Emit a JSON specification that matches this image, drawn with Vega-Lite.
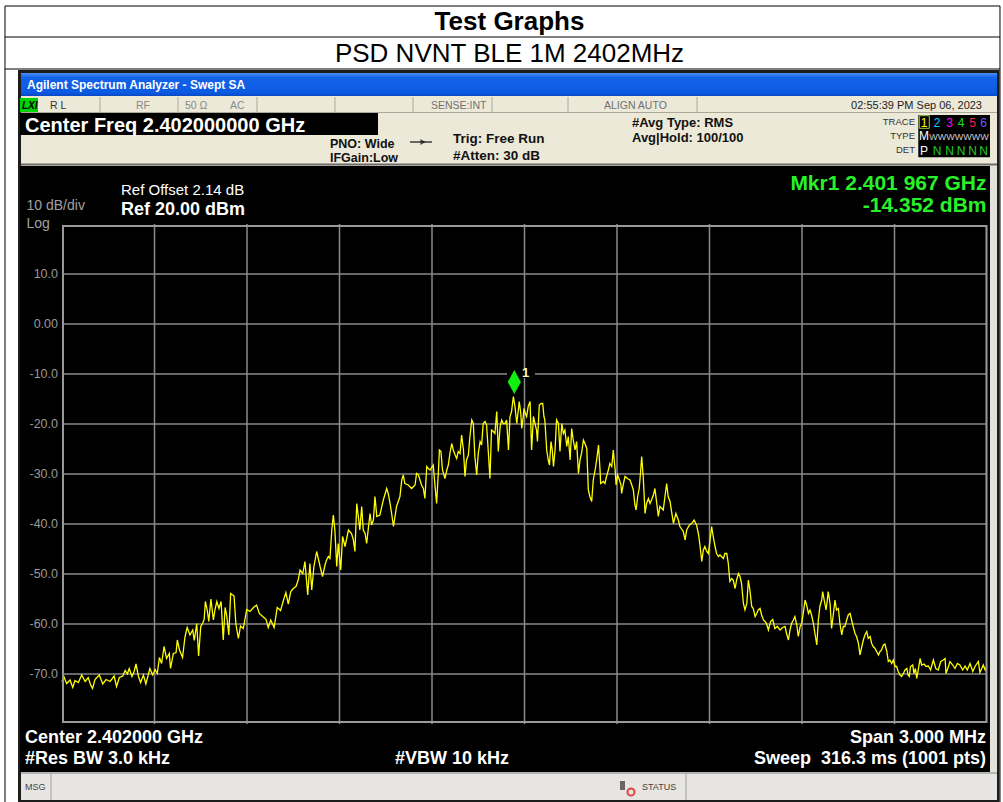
{
"$schema": "https://vega.github.io/schema/vega-lite/v6.json",
"width": 925, "height": 500,
"autosize": {"type": "none"},
"padding": {"left": 62, "top": 224, "right": 16, "bottom": 78},
"background": "white",
"config": {"font": "Liberation Sans", "view": {"fill": "black", "stroke": null}, "text": {"baseline": "alphabetic"}},
"datasets": {
"one": [{}],
"xgrid": [{"g":2400.8},{"g":2401.1},{"g":2401.4},{"g":2401.7},{"g":2402.0},{"g":2402.3},{"g":2402.6},{"g":2402.9},{"g":2403.2}],
"ygrid": [{"g":10},{"g":0},{"g":-10},{"g":-20},{"g":-30},{"g":-40},{"g":-50},{"g":-60},{"g":-70}],
"yticks": [{"v":10,"lab":"10.0"},{"v":0,"lab":"0.00"},{"v":-10,"lab":"-10.0"},{"v":-20,"lab":"-20.0"},{"v":-30,"lab":"-30.0"},{"v":-40,"lab":"-40.0"},{"v":-50,"lab":"-50.0"},{"v":-60,"lab":"-60.0"},{"v":-70,"lab":"-70.0"}],
"trace": [
{"f":2400.500,"dbm":-71.5},{"f":2400.506,"dbm":-70.5},{"f":2400.515,"dbm":-71.9},{"f":2400.526,"dbm":-71.2},{"f":2400.535,"dbm":-72.7},{"f":2400.542,"dbm":-71.3},{"f":2400.553,"dbm":-71.7},{"f":2400.564,"dbm":-70.2},{"f":2400.575,"dbm":-71.5},{"f":2400.585,"dbm":-70.7},{"f":2400.593,"dbm":-72.2},{"f":2400.599,"dbm":-72.9},{"f":2400.607,"dbm":-71.1},{"f":2400.621,"dbm":-70.2},{"f":2400.632,"dbm":-72.0},{"f":2400.643,"dbm":-71.1},{"f":2400.656,"dbm":-71.5},{"f":2400.669,"dbm":-70.4},{"f":2400.677,"dbm":-72.5},{"f":2400.686,"dbm":-70.7},{"f":2400.697,"dbm":-70.4},{"f":2400.705,"dbm":-69.3},{"f":2400.712,"dbm":-70.0},{"f":2400.718,"dbm":-68.9},{"f":2400.727,"dbm":-70.5},{"f":2400.734,"dbm":-69.5},{"f":2400.740,"dbm":-68.0},{"f":2400.748,"dbm":-70.5},{"f":2400.755,"dbm":-71.7},{"f":2400.764,"dbm":-70.2},{"f":2400.772,"dbm":-72.0},{"f":2400.785,"dbm":-68.9},{"f":2400.794,"dbm":-70.2},{"f":2400.802,"dbm":-69.1},{"f":2400.809,"dbm":-69.9},{"f":2400.816,"dbm":-66.7},{"f":2400.823,"dbm":-67.9},{"f":2400.831,"dbm":-64.5},{"f":2400.839,"dbm":-66.9},{"f":2400.848,"dbm":-65.9},{"f":2400.852,"dbm":-68.9},{"f":2400.861,"dbm":-65.9},{"f":2400.870,"dbm":-65.7},{"f":2400.874,"dbm":-63.2},{"f":2400.881,"dbm":-65.2},{"f":2400.891,"dbm":-66.7},{"f":2400.899,"dbm":-62.5},{"f":2400.906,"dbm":-60.7},{"f":2400.915,"dbm":-62.2},{"f":2400.924,"dbm":-61.2},{"f":2400.929,"dbm":-63.3},{"f":2400.937,"dbm":-59.9},{"f":2400.943,"dbm":-66.4},{"f":2400.950,"dbm":-60.5},{"f":2400.956,"dbm":-59.9},{"f":2400.961,"dbm":-59.1},{"f":2400.965,"dbm":-55.5},{"f":2400.971,"dbm":-57.2},{"f":2400.976,"dbm":-59.5},{"f":2400.983,"dbm":-55.0},{"f":2400.991,"dbm":-59.2},{"f":2400.996,"dbm":-57.2},{"f":2401.002,"dbm":-55.5},{"f":2401.009,"dbm":-56.9},{"f":2401.016,"dbm":-55.5},{"f":2401.023,"dbm":-63.2},{"f":2401.029,"dbm":-56.7},{"f":2401.034,"dbm":-58.2},{"f":2401.041,"dbm":-62.2},{"f":2401.047,"dbm":-53.9},{"f":2401.058,"dbm":-54.4},{"f":2401.064,"dbm":-60.0},{"f":2401.072,"dbm":-62.9},{"f":2401.079,"dbm":-60.4},{"f":2401.088,"dbm":-60.9},{"f":2401.099,"dbm":-57.1},{"f":2401.110,"dbm":-57.5},{"f":2401.121,"dbm":-56.7},{"f":2401.131,"dbm":-56.2},{"f":2401.140,"dbm":-57.9},{"f":2401.151,"dbm":-58.5},{"f":2401.162,"dbm":-59.1},{"f":2401.169,"dbm":-60.7},{"f":2401.177,"dbm":-59.2},{"f":2401.188,"dbm":-60.7},{"f":2401.198,"dbm":-56.7},{"f":2401.209,"dbm":-57.3},{"f":2401.218,"dbm":-55.3},{"f":2401.226,"dbm":-53.7},{"f":2401.234,"dbm":-56.0},{"f":2401.242,"dbm":-53.5},{"f":2401.250,"dbm":-52.9},{"f":2401.259,"dbm":-52.5},{"f":2401.266,"dbm":-51.2},{"f":2401.272,"dbm":-49.2},{"f":2401.281,"dbm":-49.9},{"f":2401.288,"dbm":-47.5},{"f":2401.297,"dbm":-54.2},{"f":2401.304,"dbm":-47.9},{"f":2401.310,"dbm":-53.2},{"f":2401.317,"dbm":-48.5},{"f":2401.326,"dbm":-45.5},{"f":2401.335,"dbm":-47.9},
{"f":2401.337,"dbm":-48.5},{"f":2401.345,"dbm":-50.5},{"f":2401.353,"dbm":-48.2},{"f":2401.358,"dbm":-47.2},{"f":2401.364,"dbm":-46.5},{"f":2401.369,"dbm":-46.9},{"f":2401.375,"dbm":-41.2},{"f":2401.380,"dbm":-38.2},{"f":2401.385,"dbm":-41.2},{"f":2401.391,"dbm":-48.5},{"f":2401.396,"dbm":-43.9},{"f":2401.404,"dbm":-49.2},{"f":2401.410,"dbm":-42.5},{"f":2401.418,"dbm":-44.5},{"f":2401.429,"dbm":-41.2},{"f":2401.439,"dbm":-41.9},{"f":2401.445,"dbm":-43.2},{"f":2401.450,"dbm":-45.5},{"f":2401.456,"dbm":-35.9},{"f":2401.461,"dbm":-38.5},{"f":2401.466,"dbm":-41.2},{"f":2401.472,"dbm":-36.5},{"f":2401.477,"dbm":-41.2},{"f":2401.483,"dbm":-41.9},{"f":2401.488,"dbm":-43.9},{"f":2401.499,"dbm":-37.9},{"f":2401.504,"dbm":-40.2},{"f":2401.510,"dbm":-39.2},{"f":2401.515,"dbm":-34.5},{"f":2401.521,"dbm":-38.5},{"f":2401.531,"dbm":-38.2},{"f":2401.542,"dbm":-35.2},{"f":2401.553,"dbm":-32.9},{"f":2401.558,"dbm":-33.9},{"f":2401.564,"dbm":-35.9},{"f":2401.569,"dbm":-37.9},{"f":2401.575,"dbm":-40.5},{"f":2401.580,"dbm":-38.5},{"f":2401.585,"dbm":-36.5},{"f":2401.596,"dbm":-34.5},{"f":2401.602,"dbm":-31.2},{"f":2401.607,"dbm":-30.2},{"f":2401.612,"dbm":-31.9},{"f":2401.623,"dbm":-32.2},{"f":2401.634,"dbm":-32.9},{"f":2401.645,"dbm":-32.2},{"f":2401.650,"dbm":-29.9},{"f":2401.656,"dbm":-30.2},{"f":2401.661,"dbm":-31.2},{"f":2401.666,"dbm":-32.2},{"f":2401.672,"dbm":-32.9},{"f":2401.677,"dbm":-34.9},{"f":2401.683,"dbm":-28.5},{"f":2401.688,"dbm":-28.9},{"f":2401.694,"dbm":-29.2},{"f":2401.704,"dbm":-28.2},{"f":2401.710,"dbm":-32.5},{"f":2401.715,"dbm":-35.9},{"f":2401.721,"dbm":-29.2},{"f":2401.724,"dbm":-25.2},{"f":2401.729,"dbm":-25.5},{"f":2401.734,"dbm":-29.2},{"f":2401.742,"dbm":-30.9},{"f":2401.748,"dbm":-29.2},{"f":2401.753,"dbm":-28.2},{"f":2401.758,"dbm":-25.9},{"f":2401.764,"dbm":-23.9},{"f":2401.769,"dbm":-25.2},{"f":2401.775,"dbm":-26.2},{"f":2401.780,"dbm":-26.9},{"f":2401.785,"dbm":-25.5},{"f":2401.791,"dbm":-25.9},{"f":2401.796,"dbm":-22.2},{"f":2401.802,"dbm":-25.2},{"f":2401.807,"dbm":-30.5},{"f":2401.812,"dbm":-27.2},{"f":2401.818,"dbm":-26.2},{"f":2401.823,"dbm":-22.5},{"f":2401.829,"dbm":-19.2},{"f":2401.834,"dbm":-19.9},{"f":2401.839,"dbm":-26.5},{"f":2401.845,"dbm":-30.2},{"f":2401.850,"dbm":-25.9},{"f":2401.856,"dbm":-23.5},{"f":2401.861,"dbm":-24.2},{"f":2401.866,"dbm":-19.9},{"f":2401.872,"dbm":-19.5},{"f":2401.877,"dbm":-20.2},{"f":2401.883,"dbm":-25.9},{"f":2401.888,"dbm":-30.9},{"f":2401.893,"dbm":-21.2},{"f":2401.899,"dbm":-21.5},{"f":2401.904,"dbm":-21.9},{"f":2401.910,"dbm":-17.5},{"f":2401.915,"dbm":-25.5},{"f":2401.921,"dbm":-20.5},{"f":2401.926,"dbm":-19.2},{"f":2401.931,"dbm":-19.9},{"f":2401.937,"dbm":-19.9},{"f":2401.942,"dbm":-19.2},{"f":2401.948,"dbm":-25.2},{"f":2401.953,"dbm":-18.5},{"f":2401.958,"dbm":-17.5},{"f":2401.964,"dbm":-14.5},{"f":2401.969,"dbm":-16.5},{"f":2401.975,"dbm":-19.9},{"f":2401.980,"dbm":-17.2},{"f":2401.983,"dbm":-15.5},{"f":2401.988,"dbm":-17.9},{"f":2401.991,"dbm":-20.9},{"f":2401.996,"dbm":-18.5},{"f":2401.998,"dbm":-16.9},{"f":2402.003,"dbm":-17.9},{"f":2402.007,"dbm":-18.5},{"f":2402.012,"dbm":-16.5},{"f":2402.018,"dbm":-15.5},{"f":2402.023,"dbm":-25.2},{"f":2402.029,"dbm":-18.5},{"f":2402.034,"dbm":-19.9},{"f":2402.039,"dbm":-21.2},{"f":2402.042,"dbm":-23.5},{"f":2402.048,"dbm":-16.2},{"f":2402.054,"dbm":-15.9},{"f":2402.059,"dbm":-15.9},{"f":2402.063,"dbm":-18.5},{"f":2402.066,"dbm":-19.2},{"f":2402.072,"dbm":-25.2},{"f":2402.077,"dbm":-27.2},{"f":2402.081,"dbm":-28.2},{"f":2402.086,"dbm":-23.5},{"f":2402.090,"dbm":-25.2},{"f":2402.094,"dbm":-28.5},{"f":2402.099,"dbm":-25.2},{"f":2402.104,"dbm":-19.2},{"f":2402.110,"dbm":-19.9},{"f":2402.115,"dbm":-25.5},{"f":2402.121,"dbm":-19.9},{"f":2402.126,"dbm":-21.9},{"f":2402.131,"dbm":-21.2},{"f":2402.137,"dbm":-24.5},{"f":2402.142,"dbm":-22.5},{"f":2402.148,"dbm":-27.2},{"f":2402.153,"dbm":-20.9},{"f":2402.158,"dbm":-23.2},{"f":2402.164,"dbm":-25.2},{"f":2402.169,"dbm":-23.5},{"f":2402.175,"dbm":-29.9},{"f":2402.180,"dbm":-27.2},{"f":2402.185,"dbm":-25.9},{"f":2402.191,"dbm":-23.2},{"f":2402.196,"dbm":-23.9},{"f":2402.202,"dbm":-24.9},{"f":2402.207,"dbm":-33.2},{"f":2402.212,"dbm":-34.5},{"f":2402.218,"dbm":-35.5},{"f":2402.223,"dbm":-31.2},{"f":2402.229,"dbm":-29.2},{"f":2402.234,"dbm":-27.2},{"f":2402.240,"dbm":-24.2},{"f":2402.245,"dbm":-29.2},{"f":2402.247,"dbm":-31.9},{"f":2402.256,"dbm":-31.5},{"f":2402.261,"dbm":-31.9},{"f":2402.266,"dbm":-30.5},{"f":2402.272,"dbm":-29.2},{"f":2402.277,"dbm":-27.9},{"f":2402.283,"dbm":-28.5},{"f":2402.288,"dbm":-25.2},{"f":2402.294,"dbm":-29.2},{"f":2402.297,"dbm":-32.2},{"f":2402.302,"dbm":-30.2},{"f":2402.308,"dbm":-31.2},{"f":2402.313,"dbm":-32.2},{"f":2402.315,"dbm":-33.9},{"f":2402.321,"dbm":-31.9},{"f":2402.326,"dbm":-30.5},{"f":2402.334,"dbm":-30.9},{"f":2402.342,"dbm":-31.2},{"f":2402.348,"dbm":-32.2},{"f":2402.353,"dbm":-33.2},{"f":2402.358,"dbm":-36.2},{"f":2402.362,"dbm":-37.2},{"f":2402.367,"dbm":-34.5},{"f":2402.372,"dbm":-32.9},{"f":2402.377,"dbm":-29.2},{"f":2402.380,"dbm":-26.5},{"f":2402.385,"dbm":-30.5},{"f":2402.391,"dbm":-37.9},{"f":2402.396,"dbm":-35.9},{"f":2402.402,"dbm":-34.9},{"f":2402.407,"dbm":-35.9},{"f":2402.412,"dbm":-35.2},{"f":2402.418,"dbm":-34.2},{"f":2402.423,"dbm":-32.9},{"f":2402.429,"dbm":-35.9},{"f":2402.434,"dbm":-38.5},{"f":2402.439,"dbm":-36.5},{"f":2402.450,"dbm":-37.2},{"f":2402.461,"dbm":-31.9},{"f":2402.466,"dbm":-34.5},{"f":2402.472,"dbm":-35.5},{"f":2402.483,"dbm":-39.9},{"f":2402.491,"dbm":-37.9},{"f":2402.499,"dbm":-39.2},
{"f":2402.504,"dbm":-40.5},{"f":2402.515,"dbm":-41.5},{"f":2402.521,"dbm":-43.2},{"f":2402.526,"dbm":-41.2},{"f":2402.535,"dbm":-40.2},{"f":2402.542,"dbm":-39.9},{"f":2402.550,"dbm":-39.2},{"f":2402.558,"dbm":-40.2},{"f":2402.564,"dbm":-41.9},{"f":2402.569,"dbm":-44.2},{"f":2402.575,"dbm":-47.5},{"f":2402.580,"dbm":-45.2},{"f":2402.585,"dbm":-44.5},{"f":2402.591,"dbm":-45.5},{"f":2402.596,"dbm":-45.9},{"f":2402.602,"dbm":-43.2},{"f":2402.607,"dbm":-40.5},{"f":2402.612,"dbm":-42.5},{"f":2402.618,"dbm":-44.5},{"f":2402.623,"dbm":-45.9},{"f":2402.629,"dbm":-46.5},{"f":2402.634,"dbm":-46.2},{"f":2402.645,"dbm":-46.9},{"f":2402.650,"dbm":-45.9},{"f":2402.656,"dbm":-45.9},{"f":2402.661,"dbm":-47.9},{"f":2402.666,"dbm":-51.5},{"f":2402.672,"dbm":-50.9},{"f":2402.677,"dbm":-51.2},{"f":2402.683,"dbm":-52.9},{"f":2402.688,"dbm":-51.2},{"f":2402.694,"dbm":-49.9},{"f":2402.699,"dbm":-50.5},{"f":2402.704,"dbm":-51.9},{"f":2402.710,"dbm":-55.9},{"f":2402.715,"dbm":-57.2},{"f":2402.721,"dbm":-55.9},{"f":2402.726,"dbm":-51.2},{"f":2402.731,"dbm":-53.2},{"f":2402.737,"dbm":-56.5},{"f":2402.742,"dbm":-56.9},{"f":2402.748,"dbm":-58.5},{"f":2402.753,"dbm":-57.9},{"f":2402.758,"dbm":-57.2},{"f":2402.764,"dbm":-56.9},{"f":2402.769,"dbm":-58.2},{"f":2402.775,"dbm":-59.2},{"f":2402.780,"dbm":-59.5},{"f":2402.785,"dbm":-59.9},{"f":2402.791,"dbm":-61.2},{"f":2402.798,"dbm":-59.5},{"f":2402.805,"dbm":-59.1},{"f":2402.812,"dbm":-60.9},{"f":2402.820,"dbm":-60.5},{"f":2402.829,"dbm":-61.2},{"f":2402.837,"dbm":-60.7},{"f":2402.845,"dbm":-60.5},{"f":2402.850,"dbm":-61.9},{"f":2402.856,"dbm":-63.2},{"f":2402.861,"dbm":-61.2},{"f":2402.866,"dbm":-59.9},{"f":2402.872,"dbm":-59.2},{"f":2402.877,"dbm":-58.5},{"f":2402.883,"dbm":-60.2},{"f":2402.888,"dbm":-62.5},{"f":2402.894,"dbm":-60.5},{"f":2402.899,"dbm":-59.9},{"f":2402.904,"dbm":-57.9},{"f":2402.910,"dbm":-55.2},{"f":2402.915,"dbm":-56.2},{"f":2402.921,"dbm":-57.9},{"f":2402.926,"dbm":-57.2},{"f":2402.931,"dbm":-58.2},{"f":2402.937,"dbm":-59.9},{"f":2402.942,"dbm":-61.9},{"f":2402.948,"dbm":-64.2},{"f":2402.953,"dbm":-59.2},{"f":2402.958,"dbm":-56.5},{"f":2402.964,"dbm":-55.2},{"f":2402.967,"dbm":-53.5},{"f":2402.972,"dbm":-55.2},{"f":2402.978,"dbm":-57.2},{"f":2402.982,"dbm":-55.2},{"f":2402.985,"dbm":-53.5},{"f":2402.991,"dbm":-55.9},{"f":2402.996,"dbm":-60.9},{"f":2403.002,"dbm":-57.9},{"f":2403.007,"dbm":-55.2},{"f":2403.012,"dbm":-57.2},{"f":2403.018,"dbm":-56.9},{"f":2403.023,"dbm":-59.9},{"f":2403.029,"dbm":-62.2},{"f":2403.034,"dbm":-60.5},{"f":2403.039,"dbm":-60.5},{"f":2403.045,"dbm":-59.2},{"f":2403.050,"dbm":-58.2},{"f":2403.056,"dbm":-57.9},{"f":2403.061,"dbm":-59.2},{"f":2403.066,"dbm":-60.5},{"f":2403.072,"dbm":-61.9},{"f":2403.077,"dbm":-62.5},{"f":2403.083,"dbm":-63.9},{"f":2403.088,"dbm":-66.2},{"f":2403.094,"dbm":-64.5},{"f":2403.099,"dbm":-63.2},{"f":2403.104,"dbm":-62.2},{"f":2403.110,"dbm":-61.5},{"f":2403.115,"dbm":-62.9},{"f":2403.121,"dbm":-62.5},{"f":2403.126,"dbm":-63.9},{"f":2403.131,"dbm":-64.5},{"f":2403.137,"dbm":-64.9},{"f":2403.142,"dbm":-65.5},{"f":2403.148,"dbm":-66.2},{"f":2403.153,"dbm":-65.5},{"f":2403.158,"dbm":-65.2},{"f":2403.164,"dbm":-64.2},{"f":2403.169,"dbm":-64.0},{"f":2403.175,"dbm":-65.5},{"f":2403.180,"dbm":-67.5},{"f":2403.185,"dbm":-67.2},{"f":2403.191,"dbm":-67.9},{"f":2403.196,"dbm":-67.2},{"f":2403.202,"dbm":-68.5},{"f":2403.207,"dbm":-68.5},{"f":2403.212,"dbm":-69.5},{"f":2403.218,"dbm":-70.2},{"f":2403.223,"dbm":-70.5},{"f":2403.229,"dbm":-69.9},{"f":2403.234,"dbm":-69.2},{"f":2403.240,"dbm":-68.9},{"f":2403.244,"dbm":-70.2},{"f":2403.248,"dbm":-70.5},{"f":2403.252,"dbm":-68.5},{"f":2403.259,"dbm":-68.2},{"f":2403.263,"dbm":-69.9},{"f":2403.268,"dbm":-68.9},{"f":2403.272,"dbm":-70.9},{"f":2403.277,"dbm":-69.2},{"f":2403.283,"dbm":-66.9},{"f":2403.288,"dbm":-68.2},{"f":2403.296,"dbm":-68.0},{"f":2403.302,"dbm":-68.5},{"f":2403.310,"dbm":-68.4},{"f":2403.317,"dbm":-69.2},{"f":2403.326,"dbm":-67.2},{"f":2403.334,"dbm":-68.9},{"f":2403.342,"dbm":-69.2},{"f":2403.350,"dbm":-67.5},{"f":2403.358,"dbm":-67.2},{"f":2403.364,"dbm":-66.9},{"f":2403.367,"dbm":-69.9},{"f":2403.375,"dbm":-68.5},{"f":2403.380,"dbm":-67.5},{"f":2403.389,"dbm":-68.2},{"f":2403.396,"dbm":-68.9},{"f":2403.404,"dbm":-67.9},{"f":2403.412,"dbm":-68.2},{"f":2403.421,"dbm":-69.2},{"f":2403.429,"dbm":-68.4},{"f":2403.436,"dbm":-69.2},{"f":2403.445,"dbm":-67.9},{"f":2403.454,"dbm":-69.5},{"f":2403.461,"dbm":-68.5},{"f":2403.472,"dbm":-67.5},{"f":2403.477,"dbm":-69.7},{"f":2403.483,"dbm":-68.9},{"f":2403.488,"dbm":-68.2},{"f":2403.494,"dbm":-69.2},{"f":2403.499,"dbm":-68.5}
]
},
"layer": [
{"data":{"name":"one"},"mark":{"type":"rect","filled":false,"stroke":"#000000","strokeWidth":1},"encoding":{"x":{"datum":2400.3151,"type":"quantitative","axis":null},"x2":{"datum":2403.5421},"y":{"datum":63.6,"type":"quantitative","axis":null},"y2":{"datum":-96}}},
{"data":{"name":"one"},"mark":{"type":"rule","color":"#000000","strokeWidth":1},"encoding":{"x":{"datum":2400.3151,"type":"quantitative","axis":null},"x2":{"datum":2403.5421},"y":{"datum":57.4,"type":"quantitative","axis":null}}},
{"data":{"name":"one"},"mark":{"type":"rule","color":"#000000","strokeWidth":1},"encoding":{"x":{"datum":2400.3151,"type":"quantitative","axis":null},"x2":{"datum":2403.5421},"y":{"datum":51.0,"type":"quantitative","axis":null}}},
{"data":{"name":"one"},"mark":{"type":"text","text":"Test Graphs","align":"center","fontSize":26,"fontWeight":"bold","color":"#000000"},"encoding":{"x":{"datum":2401.9514,"type":"quantitative","axis":null},"y":{"datum":58.8,"type":"quantitative","axis":null}}},
{"data":{"name":"one"},"mark":{"type":"text","text":"PSD NVNT BLE 1M 2402MHz","align":"center","fontSize":26,"color":"#000000"},"encoding":{"x":{"datum":2401.9514,"type":"quantitative","axis":null},"y":{"datum":52.4,"type":"quantitative","axis":null}}},
{"data":{"name":"one"},"mark":{"type":"rect","filled":false,"stroke":"#1c1c1c","strokeWidth":3},"encoding":{"x":{"datum":2400.3622,"type":"quantitative","axis":null},"x2":{"datum":2403.5357},"y":{"datum":50.5,"type":"quantitative","axis":null},"y2":{"datum":-95.5}}},
{"data":{"name":"one"},"mark":{"type":"rect","fill":{"gradient":"linear","x1":0,"y1":0,"x2":0,"y2":1,"stops":[{"offset":0,"color":"#4a8ff5"},{"offset":0.2,"color":"#1462e8"},{"offset":0.85,"color":"#0b5ae2"},{"offset":1,"color":"#0a48c4"}]}},"encoding":{"x":{"datum":2400.3670,"type":"quantitative","axis":null},"x2":{"datum":2403.5324},"y":{"datum":50.2,"type":"quantitative","axis":null},"y2":{"datum":45.6}}},
{"data":{"name":"one"},"mark":{"type":"text","text":"Agilent Spectrum Analyzer - Swept SA","align":"left","fontSize":12,"fontWeight":"bold","color":"#ffffff"},"encoding":{"x":{"datum":2400.3865,"type":"quantitative","axis":null},"y":{"datum":47.0,"type":"quantitative","axis":null}}},
{"data":{"name":"one"},"mark":{"type":"rect","color":"#ece9d8"},"encoding":{"x":{"datum":2400.3670,"type":"quantitative","axis":null},"x2":{"datum":2403.5324},"y":{"datum":45.6,"type":"quantitative","axis":null},"y2":{"datum":31.6}}},
{"data":{"name":"one"},"mark":{"type":"rule","color":"#aca899","strokeWidth":1},"encoding":{"x":{"datum":2400.3670,"type":"quantitative","axis":null},"x2":{"datum":2403.5324},"y":{"datum":42.3,"type":"quantitative","axis":null}}},
{"data":{"name":"one"},"mark":{"type":"rule","color":"#aca899","strokeWidth":1},"encoding":{"x":{"datum":2400.6232,"type":"quantitative","axis":null},"y":{"datum":45.4,"type":"quantitative","axis":null},"y2":{"datum":42.4}}},
{"data":{"name":"one"},"mark":{"type":"rule","color":"#aca899","strokeWidth":1},"encoding":{"x":{"datum":2400.8762,"type":"quantitative","axis":null},"y":{"datum":45.4,"type":"quantitative","axis":null},"y2":{"datum":42.4}}},
{"data":{"name":"one"},"mark":{"type":"rule","color":"#aca899","strokeWidth":1},"encoding":{"x":{"datum":2401.1324,"type":"quantitative","axis":null},"y":{"datum":45.4,"type":"quantitative","axis":null},"y2":{"datum":42.4}}},
{"data":{"name":"one"},"mark":{"type":"rule","color":"#aca899","strokeWidth":1},"encoding":{"x":{"datum":2401.3854,"type":"quantitative","axis":null},"y":{"datum":45.4,"type":"quantitative","axis":null},"y2":{"datum":42.4}}},
{"data":{"name":"one"},"mark":{"type":"rule","color":"#aca899","strokeWidth":1},"encoding":{"x":{"datum":2401.6384,"type":"quantitative","axis":null},"y":{"datum":45.4,"type":"quantitative","axis":null},"y2":{"datum":42.4}}},
{"data":{"name":"one"},"mark":{"type":"rule","color":"#aca899","strokeWidth":1},"encoding":{"x":{"datum":2401.8946,"type":"quantitative","axis":null},"y":{"datum":45.4,"type":"quantitative","axis":null},"y2":{"datum":42.4}}},
{"data":{"name":"one"},"mark":{"type":"rule","color":"#aca899","strokeWidth":1},"encoding":{"x":{"datum":2402.1411,"type":"quantitative","axis":null},"y":{"datum":45.4,"type":"quantitative","axis":null},"y2":{"datum":42.4}}},
{"data":{"name":"one"},"mark":{"type":"rule","color":"#aca899","strokeWidth":1},"encoding":{"x":{"datum":2402.5595,"type":"quantitative","axis":null},"y":{"datum":45.4,"type":"quantitative","axis":null},"y2":{"datum":42.4}}},
{"data":{"name":"one"},"mark":{"type":"rect","color":"#00d000"},"encoding":{"x":{"datum":2400.3638,"type":"quantitative","axis":null},"x2":{"datum":2400.4222},"y":{"datum":45.2,"type":"quantitative","axis":null},"y2":{"datum":42.4}}},
{"data":{"name":"one"},"mark":{"type":"text","text":"LXI","align":"left","fontSize":10,"fontWeight":"bold","fontStyle":"italic","color":"#000000"},"encoding":{"x":{"datum":2400.3703,"type":"quantitative","axis":null},"y":{"datum":43.1,"type":"quantitative","axis":null}}},
{"data":{"name":"one"},"mark":{"type":"text","text":"R L","align":"left","fontSize":10.5,"color":"#333333"},"encoding":{"x":{"datum":2400.4611,"type":"quantitative","axis":null},"y":{"datum":43.1,"type":"quantitative","axis":null}}},
{"data":{"name":"one"},"mark":{"type":"text","text":"RF","align":"left","fontSize":10.5,"color":"#8a8a8a"},"encoding":{"x":{"datum":2400.7400,"type":"quantitative","axis":null},"y":{"datum":43.1,"type":"quantitative","axis":null}}},
{"data":{"name":"one"},"mark":{"type":"text","text":"50 Ω","align":"left","fontSize":10.5,"color":"#8a8a8a"},"encoding":{"x":{"datum":2400.8989,"type":"quantitative","axis":null},"y":{"datum":43.1,"type":"quantitative","axis":null}}},
{"data":{"name":"one"},"mark":{"type":"text","text":"AC","align":"left","fontSize":10.5,"color":"#8a8a8a"},"encoding":{"x":{"datum":2401.0449,"type":"quantitative","axis":null},"y":{"datum":43.1,"type":"quantitative","axis":null}}},
{"data":{"name":"one"},"mark":{"type":"text","text":"SENSE:INT","align":"left","fontSize":10.5,"color":"#707070"},"encoding":{"x":{"datum":2401.6967,"type":"quantitative","axis":null},"y":{"datum":43.1,"type":"quantitative","axis":null}}},
{"data":{"name":"one"},"mark":{"type":"text","text":"ALIGN AUTO","align":"left","fontSize":10.5,"color":"#707070"},"encoding":{"x":{"datum":2402.2578,"type":"quantitative","axis":null},"y":{"datum":43.1,"type":"quantitative","axis":null}}},
{"data":{"name":"one"},"mark":{"type":"text","text":"02:55:39 PM Sep 06, 2023","align":"right","fontSize":11,"color":"#222222"},"encoding":{"x":{"datum":2403.4838,"type":"quantitative","axis":null},"y":{"datum":43.1,"type":"quantitative","axis":null}}},
{"data":{"name":"one"},"mark":{"type":"rect","color":"#000000"},"encoding":{"x":{"datum":2400.3638,"type":"quantitative","axis":null},"x2":{"datum":2401.5249},"y":{"datum":42.2,"type":"quantitative","axis":null},"y2":{"datum":37.8}}},
{"data":{"name":"one"},"mark":{"type":"text","text":"Center Freq 2.402000000 GHz","align":"left","fontSize":20,"fontWeight":"bold","color":"#ffffff"},"encoding":{"x":{"datum":2400.3800,"type":"quantitative","axis":null},"y":{"datum":38.5,"type":"quantitative","axis":null}}},
{"data":{"name":"one"},"mark":{"type":"text","text":"PNO: Wide","align":"left","fontSize":12.5,"fontWeight":"bold","color":"#111111"},"encoding":{"x":{"datum":2401.3692,"type":"quantitative","axis":null},"y":{"datum":35.2,"type":"quantitative","axis":null}}},
{"data":{"name":"one"},"mark":{"type":"text","text":"IFGain:Low","align":"left","fontSize":12.5,"fontWeight":"bold","color":"#111111"},"encoding":{"x":{"datum":2401.3692,"type":"quantitative","axis":null},"y":{"datum":32.4,"type":"quantitative","axis":null}}},
{"data":{"name":"one"},"mark":{"type":"rule","color":"#111111","strokeWidth":1.2},"encoding":{"x":{"datum":2401.6287,"type":"quantitative","axis":null},"x2":{"datum":2401.7000},"y":{"datum":36.4,"type":"quantitative","axis":null}}},
{"data":{"name":"one"},"mark":{"type":"point","shape":"triangle-right","filled":true,"size":35,"color":"#111111"},"encoding":{"x":{"datum":2401.6708,"type":"quantitative","axis":null},"y":{"datum":36.4,"type":"quantitative","axis":null}}},
{"data":{"name":"one"},"mark":{"type":"text","text":"Trig: Free Run","align":"left","fontSize":13.5,"fontWeight":"bold","color":"#111111"},"encoding":{"x":{"datum":2401.7681,"type":"quantitative","axis":null},"y":{"datum":36.3,"type":"quantitative","axis":null}}},
{"data":{"name":"one"},"mark":{"type":"text","text":"#Atten: 30 dB","align":"left","fontSize":13.5,"fontWeight":"bold","color":"#111111"},"encoding":{"x":{"datum":2401.7681,"type":"quantitative","axis":null},"y":{"datum":32.9,"type":"quantitative","axis":null}}},
{"data":{"name":"one"},"mark":{"type":"text","text":"#Avg Type: RMS","align":"left","fontSize":13,"fontWeight":"bold","color":"#111111"},"encoding":{"x":{"datum":2402.3486,"type":"quantitative","axis":null},"y":{"datum":39.5,"type":"quantitative","axis":null}}},
{"data":{"name":"one"},"mark":{"type":"text","text":"Avg|Hold: 100/100","align":"left","fontSize":13,"fontWeight":"bold","color":"#111111"},"encoding":{"x":{"datum":2402.3486,"type":"quantitative","axis":null},"y":{"datum":36.5,"type":"quantitative","axis":null}}},
{"data":{"name":"one"},"mark":{"type":"text","text":"TRACE","align":"right","fontSize":9.5,"color":"#333333"},"encoding":{"x":{"datum":2403.2665,"type":"quantitative","axis":null},"y":{"datum":39.8,"type":"quantitative","axis":null}}},
{"data":{"name":"one"},"mark":{"type":"text","text":"TYPE","align":"right","fontSize":9.5,"color":"#333333"},"encoding":{"x":{"datum":2403.2665,"type":"quantitative","axis":null},"y":{"datum":37.1,"type":"quantitative","axis":null}}},
{"data":{"name":"one"},"mark":{"type":"text","text":"DET","align":"right","fontSize":9.5,"color":"#333333"},"encoding":{"x":{"datum":2403.2665,"type":"quantitative","axis":null},"y":{"datum":34.3,"type":"quantitative","axis":null}}},
{"data":{"name":"one"},"mark":{"type":"rect","color":"#000000"},"encoding":{"x":{"datum":2403.2772,"type":"quantitative","axis":null},"x2":{"datum":2403.5097},"y":{"datum":41.8,"type":"quantitative","axis":null},"y2":{"datum":33.35}}},
{"data":{"name":"one"},"mark":{"type":"rect","filled":false,"stroke":"#9acd32","strokeWidth":1},"encoding":{"x":{"datum":2403.2804,"type":"quantitative","axis":null},"x2":{"datum":2403.3129},"y":{"datum":41.66,"type":"quantitative","axis":null},"y2":{"datum":39.14}}},
{"data":{"name":"one"},"mark":{"type":"text","text":"1","align":"center","fontSize":12,"color":"#ffff00"},"encoding":{"x":{"datum":2403.2957,"type":"quantitative","axis":null},"y":{"datum":39.4,"type":"quantitative","axis":null}}},
{"data":{"name":"one"},"mark":{"type":"text","text":"2","align":"center","fontSize":12,"color":"#00ccff"},"encoding":{"x":{"datum":2403.3378,"type":"quantitative","axis":null},"y":{"datum":39.4,"type":"quantitative","axis":null}}},
{"data":{"name":"one"},"mark":{"type":"text","text":"3","align":"center","fontSize":12,"color":"#ff00ff"},"encoding":{"x":{"datum":2403.3784,"type":"quantitative","axis":null},"y":{"datum":39.4,"type":"quantitative","axis":null}}},
{"data":{"name":"one"},"mark":{"type":"text","text":"4","align":"center","fontSize":12,"color":"#22dd22"},"encoding":{"x":{"datum":2403.4157,"type":"quantitative","axis":null},"y":{"datum":39.4,"type":"quantitative","axis":null}}},
{"data":{"name":"one"},"mark":{"type":"text","text":"5","align":"center","fontSize":12,"color":"#ff2255"},"encoding":{"x":{"datum":2403.4530,"type":"quantitative","axis":null},"y":{"datum":39.4,"type":"quantitative","axis":null}}},
{"data":{"name":"one"},"mark":{"type":"text","text":"6","align":"center","fontSize":12,"color":"#6a5cff"},"encoding":{"x":{"datum":2403.4886,"type":"quantitative","axis":null},"y":{"datum":39.4,"type":"quantitative","axis":null}}},
{"data":{"name":"one"},"mark":{"type":"text","text":"M","align":"center","fontSize":12,"color":"#ffffff"},"encoding":{"x":{"datum":2403.2957,"type":"quantitative","axis":null},"y":{"datum":36.8,"type":"quantitative","axis":null}}},
{"data":{"name":"one"},"mark":{"type":"text","text":"WWWWWWW","align":"center","fontSize":9,"color":"#cccccc"},"encoding":{"x":{"datum":2403.4092,"type":"quantitative","axis":null},"y":{"datum":36.9,"type":"quantitative","axis":null}}},
{"data":{"name":"one"},"mark":{"type":"text","text":"P","align":"center","fontSize":12,"color":"#ffffff"},"encoding":{"x":{"datum":2403.2957,"type":"quantitative","axis":null},"y":{"datum":33.8,"type":"quantitative","axis":null}}},
{"data":{"name":"one"},"mark":{"type":"text","text":"N","align":"center","fontSize":12,"color":"#22cc22"},"encoding":{"x":{"datum":2403.3378,"type":"quantitative","axis":null},"y":{"datum":33.8,"type":"quantitative","axis":null}}},
{"data":{"name":"one"},"mark":{"type":"text","text":"N","align":"center","fontSize":12,"color":"#22cc22"},"encoding":{"x":{"datum":2403.3784,"type":"quantitative","axis":null},"y":{"datum":33.8,"type":"quantitative","axis":null}}},
{"data":{"name":"one"},"mark":{"type":"text","text":"N","align":"center","fontSize":12,"color":"#22cc22"},"encoding":{"x":{"datum":2403.4157,"type":"quantitative","axis":null},"y":{"datum":33.8,"type":"quantitative","axis":null}}},
{"data":{"name":"one"},"mark":{"type":"text","text":"N","align":"center","fontSize":12,"color":"#22cc22"},"encoding":{"x":{"datum":2403.4530,"type":"quantitative","axis":null},"y":{"datum":33.8,"type":"quantitative","axis":null}}},
{"data":{"name":"one"},"mark":{"type":"text","text":"N","align":"center","fontSize":12,"color":"#22cc22"},"encoding":{"x":{"datum":2403.4886,"type":"quantitative","axis":null},"y":{"datum":33.8,"type":"quantitative","axis":null}}},
{"data":{"name":"one"},"mark":{"type":"rule","color":"#6b6b6b","strokeWidth":2},"encoding":{"x":{"datum":2400.3670,"type":"quantitative","axis":null},"x2":{"datum":2403.5324},"y":{"datum":31.9,"type":"quantitative","axis":null}}},
{"data":{"name":"one"},"mark":{"type":"rect","color":"#000000"},"encoding":{"x":{"datum":2400.3638,"type":"quantitative","axis":null},"x2":{"datum":2403.5097},"y":{"datum":31.6,"type":"quantitative","axis":null},"y2":{"datum":20}}},
{"data":{"name":"one"},"mark":{"type":"rect","color":"#000000"},"encoding":{"x":{"datum":2400.3638,"type":"quantitative","axis":null},"x2":{"datum":2403.5097},"y":{"datum":-80,"type":"quantitative","axis":null},"y2":{"datum":-89.6}}},
{"data":{"name":"one"},"mark":{"type":"rect","color":"#000000"},"encoding":{"x":{"datum":2400.3638,"type":"quantitative","axis":null},"x2":{"datum":2400.5},"y":{"datum":20,"type":"quantitative","axis":null},"y2":{"datum":-80}}},
{"data":{"name":"one"},"mark":{"type":"rect","color":"#000000"},"encoding":{"x":{"datum":2403.5,"type":"quantitative","axis":null},"x2":{"datum":2403.5097},"y":{"datum":20,"type":"quantitative","axis":null},"y2":{"datum":-80}}},
{"data":{"name":"one"},"mark":{"type":"rect","color":"#e4e2da"},"encoding":{"x":{"datum":2403.5097,"type":"quantitative","axis":null},"x2":{"datum":2403.5324},"y":{"datum":31.6,"type":"quantitative","axis":null},"y2":{"datum":-89.6}}},
{"data":{"name":"one"},"mark":{"type":"rect","color":"#e6e5e1"},"encoding":{"x":{"datum":2400.3670,"type":"quantitative","axis":null},"x2":{"datum":2403.5324},"y":{"datum":-89.6,"type":"quantitative","axis":null},"y2":{"datum":-95.2}}},
{"data":{"name":"one"},"mark":{"type":"rule","color":"#808080","strokeWidth":1},"encoding":{"x":{"datum":2400.3670,"type":"quantitative","axis":null},"x2":{"datum":2403.5324},"y":{"datum":-89.8,"type":"quantitative","axis":null}}},
{"data":{"name":"one"},"mark":{"type":"rule","color":"#a0a0a0","strokeWidth":1},"encoding":{"x":{"datum":2400.4643,"type":"quantitative","axis":null},"y":{"datum":-89.8,"type":"quantitative","axis":null},"y2":{"datum":-95.2}}},
{"data":{"name":"one"},"mark":{"type":"rule","color":"#a0a0a0","strokeWidth":1},"encoding":{"x":{"datum":2402.5238,"type":"quantitative","axis":null},"y":{"datum":-89.8,"type":"quantitative","axis":null},"y2":{"datum":-95.2}}},
{"data":{"name":"one"},"mark":{"type":"text","text":"MSG","align":"left","fontSize":9,"color":"#444444"},"encoding":{"x":{"datum":2400.3800,"type":"quantitative","axis":null},"y":{"datum":-93.2,"type":"quantitative","axis":null}}},
{"data":{"name":"one"},"mark":{"type":"text","text":"STATUS","align":"left","fontSize":9,"color":"#444444"},"encoding":{"x":{"datum":2402.3811,"type":"quantitative","axis":null},"y":{"datum":-93.2,"type":"quantitative","axis":null}}},
{"data":{"name":"one"},"mark":{"type":"rect","color":"#666666"},"encoding":{"x":{"datum":2402.3097,"type":"quantitative","axis":null},"x2":{"datum":2402.3260},"y":{"datum":-91.4,"type":"quantitative","axis":null},"y2":{"datum":-93.2}}},
{"data":{"name":"one"},"mark":{"type":"point","shape":"circle","filled":false,"size":50,"stroke":"#e00000","strokeWidth":2},"encoding":{"x":{"datum":2402.3454,"type":"quantitative","axis":null},"y":{"datum":-93.6,"type":"quantitative","axis":null}}},
{"data":{"name":"xgrid"},"mark":{"type":"rule","color":"#8a8a8a","strokeWidth":1.5},"encoding":{"x":{"field":"g","type":"quantitative","axis":null}}},
{"data":{"name":"ygrid"},"mark":{"type":"rule","color":"#8a8a8a","strokeWidth":1.5},"encoding":{"y":{"field":"g","type":"quantitative","axis":null}}},
{"data":{"name":"one"},"mark":{"type":"rect","color":"#000000"},"encoding":{"x":{"datum":2401.9432,"type":"quantitative","axis":null},"x2":{"datum":2402.0341},"y":{"datum":-9.2,"type":"quantitative","axis":null},"y2":{"datum":-10.8}}},
{"data":{"name":"trace"},"mark":{"type":"line","color":"#ffff00","strokeWidth":1.3},
 "encoding":{
  "x":{"field":"f","type":"quantitative","title":"Frequency (MHz)","scale":{"domain":[2400.5,2403.5],"nice":false,"zero":false},"axis":null},
  "y":{"field":"dbm","type":"quantitative","title":"Level (dBm)","scale":{"domain":[-80,20],"nice":false,"zero":false},"axis":null}
 }},
{"data":{"name":"one"},"mark":{"type":"point","shape":"M0,-1L0.55,0L0,1L-0.55,0Z","filled":true,"size":576,"color":"#11ee11","opacity":1},"encoding":{"x":{"datum":2401.967,"type":"quantitative","axis":null},"y":{"datum":-11.6,"type":"quantitative","axis":null}}},
{"data":{"name":"one"},"mark":{"type":"text","text":"1","align":"left","fontSize":13,"fontWeight":"bold","color":"#ffffb0"},"encoding":{"x":{"datum":2401.9919,"type":"quantitative","axis":null},"y":{"datum":-10.6,"type":"quantitative","axis":null}}},
{"data":{"name":"one"},"mark":{"type":"rect","filled":false,"stroke":"#9a9a9a","strokeWidth":2},"encoding":{"x":{"datum":2400.5032,"type":"quantitative","axis":null},"x2":{"datum":2403.4984},"y":{"datum":19.6,"type":"quantitative","axis":null},"y2":{"datum":-79.6}}},
{"data":{"name":"yticks"},"mark":{"type":"text","align":"right","baseline":"middle","fontSize":12.5,"color":"#9a9a9a"},"encoding":{"x":{"datum":2400.4870,"type":"quantitative","axis":null},"y":{"field":"v","type":"quantitative","axis":null},"text":{"field":"lab"}}},
{"data":{"name":"one"},"mark":{"type":"text","text":"Ref Offset 2.14 dB","align":"left","fontSize":15,"color":"#ffffff"},"encoding":{"x":{"datum":2400.6914,"type":"quantitative","axis":null},"y":{"datum":25.8,"type":"quantitative","axis":null}}},
{"data":{"name":"one"},"mark":{"type":"text","text":"Ref 20.00 dBm","align":"left","fontSize":18,"fontWeight":"bold","color":"#ffffff"},"encoding":{"x":{"datum":2400.6914,"type":"quantitative","axis":null},"y":{"datum":21.8,"type":"quantitative","axis":null}}},
{"data":{"name":"one"},"mark":{"type":"text","text":"10 dB/div","align":"left","fontSize":14,"color":"#a0a0a0"},"encoding":{"x":{"datum":2400.3849,"type":"quantitative","axis":null},"y":{"datum":22.8,"type":"quantitative","axis":null}}},
{"data":{"name":"one"},"mark":{"type":"text","text":"Log","align":"left","fontSize":14,"color":"#a0a0a0"},"encoding":{"x":{"datum":2400.3849,"type":"quantitative","axis":null},"y":{"datum":19.2,"type":"quantitative","axis":null}}},
{"data":{"name":"one"},"mark":{"type":"text","text":"Mkr1 2.401 967 GHz","align":"right","fontSize":21,"fontWeight":"bold","color":"#2af02a"},"encoding":{"x":{"datum":2403.4984,"type":"quantitative","axis":null},"y":{"datum":26.8,"type":"quantitative","axis":null}}},
{"data":{"name":"one"},"mark":{"type":"text","text":"-14.352 dBm","align":"right","fontSize":21,"fontWeight":"bold","color":"#2af02a"},"encoding":{"x":{"datum":2403.4984,"type":"quantitative","axis":null},"y":{"datum":22.5,"type":"quantitative","axis":null}}},
{"data":{"name":"one"},"mark":{"type":"text","text":"Center 2.402000 GHz","align":"left","fontSize":18,"fontWeight":"bold","color":"#ffffff"},"encoding":{"x":{"datum":2400.3800,"type":"quantitative","axis":null},"y":{"datum":-83.8,"type":"quantitative","axis":null}}},
{"data":{"name":"one"},"mark":{"type":"text","text":"#Res BW 3.0 kHz","align":"left","fontSize":18,"fontWeight":"bold","color":"#ffffff"},"encoding":{"x":{"datum":2400.3800,"type":"quantitative","axis":null},"y":{"datum":-88.0,"type":"quantitative","axis":null}}},
{"data":{"name":"one"},"mark":{"type":"text","text":"#VBW 10 kHz","align":"left","fontSize":18,"fontWeight":"bold","color":"#ffffff"},"encoding":{"x":{"datum":2401.5800,"type":"quantitative","axis":null},"y":{"datum":-88.0,"type":"quantitative","axis":null}}},
{"data":{"name":"one"},"mark":{"type":"text","text":"Span 3.000 MHz","align":"right","fontSize":18,"fontWeight":"bold","color":"#ffffff"},"encoding":{"x":{"datum":2403.4968,"type":"quantitative","axis":null},"y":{"datum":-83.8,"type":"quantitative","axis":null}}},
{"data":{"name":"one"},"mark":{"type":"text","text":"Sweep\u00a0 316.3 ms (1001 pts)","align":"right","fontSize":18,"fontWeight":"bold","color":"#ffffff"},"encoding":{"x":{"datum":2403.4968,"type":"quantitative","axis":null},"y":{"datum":-88.0,"type":"quantitative","axis":null}}}
]
}
